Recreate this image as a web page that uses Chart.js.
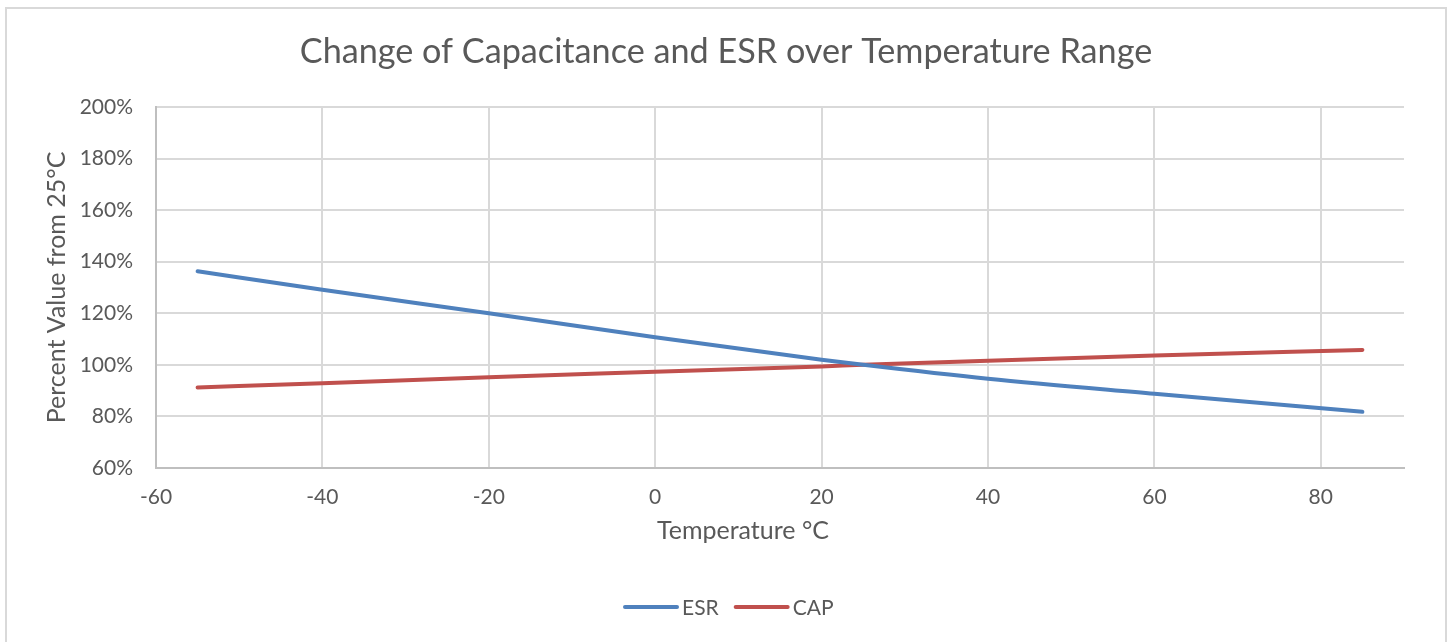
<!DOCTYPE html>
<html>
<head>
<meta charset="utf-8">
<script src="https://cdn.jsdelivr.net/npm/chart.js@4/dist/chart.umd.min.js"></script>
<style>
  html, body { margin: 0; padding: 0; background: #ffffff; }
  #wrap { position: relative; width: 1449px; height: 642px; }
</style>
</head>
<body>
<div id="wrap"><canvas id="c" width="1449" height="642"></canvas></div>
<script>
// ---- Data ----
const chartTitle = 'Change of Capacitance and ESR over Temperature Range';
const xAxisTitle = 'Temperature °C';
const yAxisTitle = 'Percent Value from 25°C';
const temperatures = [-55, -40, -20, 0, 20, 25, 40, 60, 85];
const esrValues = [136.3, 129.1, 120.0, 110.7, 102.0, 100.0, 94.6, 88.8, 81.8];
const capValues = [91.2, 92.9, 95.2, 97.3, 99.4, 100.0, 101.6, 103.6, 105.8];
const xTicks = [-60, -40, -20, 0, 20, 40, 60, 80];
const yTicks = [60, 80, 100, 120, 140, 160, 180, 200];
const seriesNames = ['ESR', 'CAP'];

const TEXT = '#595959';
const FONT = 'Lato, "Open Sans", sans-serif';
const colors = ['#4f81bd', '#c0504d'];

const decor = {
  id: 'decor',
  beforeDraw(chart) {
    const ctx = chart.ctx;
    ctx.save();
    ctx.fillStyle = '#ffffff';
    ctx.fillRect(0, 0, chart.width, chart.height);
    ctx.strokeStyle = '#d9d9d9';
    ctx.lineWidth = 2;
    ctx.strokeRect(6, 8, 1440, 700);
    ctx.restore();
  },
  afterDraw(chart) {
    const ctx = chart.ctx;
    ctx.save();
    // title
    ctx.fillStyle = TEXT;
    ctx.font = '34.2px ' + FONT;
    ctx.textAlign = 'center';
    ctx.textBaseline = 'alphabetic';
    ctx.fillText(chartTitle, 726, 63);
    // x axis title
    ctx.font = '25px ' + FONT;
    ctx.textBaseline = 'middle';
    ctx.fillText(xAxisTitle, 743, 531);
    // legend
    ctx.font = '21px ' + FONT;
    ctx.textAlign = 'left';
    ctx.textBaseline = 'middle';
    const lineLen = 53, gap = 5, itemGap = 16;
    const widths = seriesNames.map(n => lineLen + gap + ctx.measureText(n).width);
    let x = 624;
    const y = 607;
    seriesNames.forEach((n, i) => {
      ctx.strokeStyle = colors[i];
      ctx.lineWidth = 4;
      ctx.lineCap = 'round';
      ctx.beginPath();
      ctx.moveTo(x + 1, y);
      ctx.lineTo(x + lineLen, y);
      ctx.stroke();
      ctx.fillStyle = TEXT;
      ctx.fillText(n, x + lineLen + gap, y + 1);
      x += widths[i] + itemGap;
    });
    ctx.restore();
  }
};

new Chart(document.getElementById('c'), {
  type: 'line',
  data: {
    datasets: [
      {
        label: seriesNames[0],
        data: temperatures.map((t, i) => ({ x: t, y: esrValues[i] })),
        borderColor: colors[0],
        backgroundColor: colors[0],
        borderWidth: 4,
        pointRadius: 0,
        borderCapStyle: 'round',
        cubicInterpolationMode: 'monotone'
      },
      {
        label: seriesNames[1],
        data: temperatures.map((t, i) => ({ x: t, y: capValues[i] })),
        borderColor: colors[1],
        backgroundColor: colors[1],
        borderWidth: 4,
        pointRadius: 0,
        borderCapStyle: 'round',
        cubicInterpolationMode: 'monotone'
      }
    ]
  },
  options: {
    responsive: false,
    animation: false,
    layout: { padding: { top: 107, right: 45, bottom: 0, left: 0 } },
    plugins: {
      legend: { display: false },
      title: { display: false },
      tooltip: { enabled: false }
    },
    scales: {
      x: {
        type: 'linear',
        min: -60,
        max: 90,
        afterBuildTicks: s => { s.ticks = xTicks.map(v => ({ value: v })); },
        afterFit: s => { s.height = 174; },
        grid: { color: '#d9d9d9', lineWidth: 2, drawTicks: false },
        border: { color: '#bfbfbf', width: 2 },
        ticks: {
          color: TEXT,
          font: { family: FONT, size: 21, lineHeight: 1.2 },
          padding: 17,
          maxRotation: 0,
          callback: v => String(v)
        },
        title: { display: false }
      },
      y: {
        type: 'linear',
        min: 60,
        max: 200,
        afterBuildTicks: s => { s.ticks = yTicks.map(v => ({ value: v })); },
        afterFit: s => { s.width = 156; },
        grid: { color: '#d9d9d9', lineWidth: 2, drawTicks: false },
        border: { color: '#bfbfbf', width: 2 },
        ticks: {
          color: TEXT,
          font: { family: FONT, size: 21, lineHeight: 1.2 },
          padding: 23,
          callback: v => v + '%'
        },
        title: {
          display: true,
          text: yAxisTitle,
          color: TEXT,
          font: { family: FONT, size: 25, lineHeight: 1.2 },
          padding: { top: 42, bottom: 0 }
        }
      }
    }
  },
  plugins: [decor]
});
</script>
</body>
</html>
